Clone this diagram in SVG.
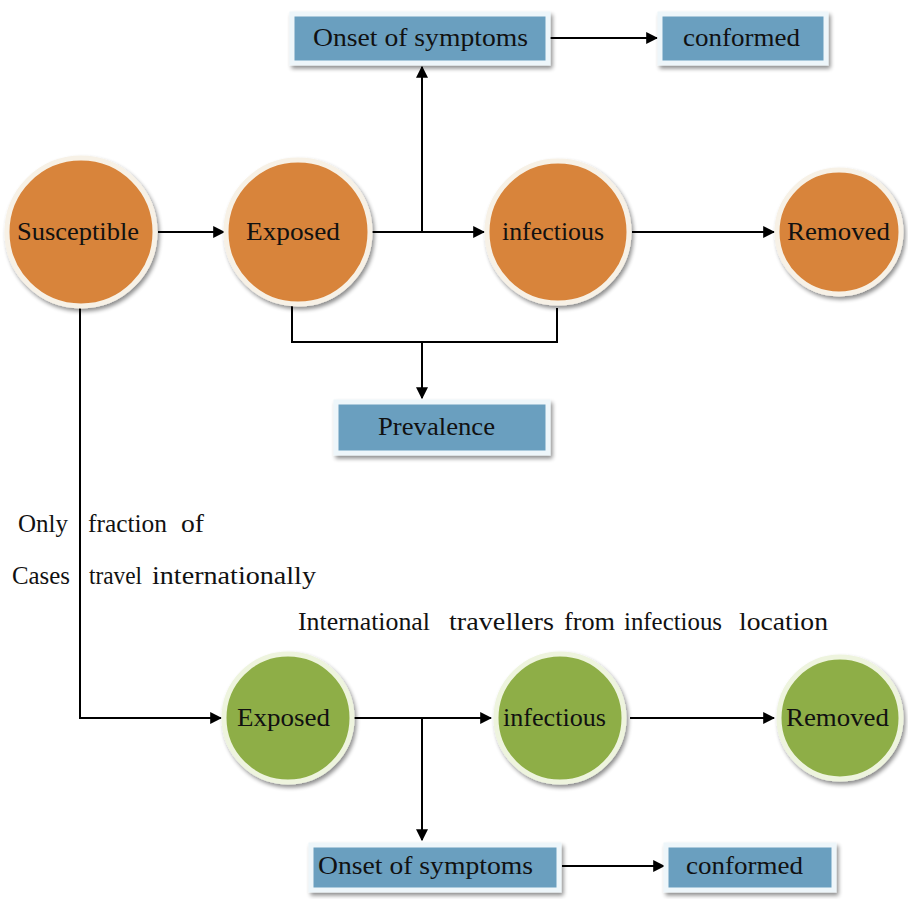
<svg xmlns="http://www.w3.org/2000/svg" width="908" height="901" viewBox="0 0 908 901">
<defs>
<marker id="ah" viewBox="0 0 10 10" refX="9" refY="5" markerWidth="12" markerHeight="12" markerUnits="userSpaceOnUse" orient="auto">
<path d="M0,0 L10,5 L0,10 z" fill="#000"/>
</marker>
<filter id="sh" x="-20%" y="-20%" width="140%" height="140%">
<feGaussianBlur in="SourceAlpha" stdDeviation="2"/>
<feOffset dx="2" dy="3"/>
<feComponentTransfer><feFuncA type="linear" slope="0.45"/></feComponentTransfer>
<feMerge><feMergeNode/><feMergeNode in="SourceGraphic"/></feMerge>
</filter>
</defs>
<style>
text{font-family:'Liberation Serif','Tinos','Nimbus Roman','Nimbus Roman No9 L','FreeSerif','Times New Roman',Times,'DejaVu Serif',serif;font-size:25px;fill:#111;}
.or{fill:#D8843B;stroke:#F7F1E6;stroke-width:5;filter:url(#sh);}
.gr{fill:#8EAE47;stroke:#EEF4DE;stroke-width:5;filter:url(#sh);}
.bx{fill:#6A9FBF;stroke:#EEF6FA;stroke-width:5;filter:url(#sh);}
.ln{fill:none;stroke:#000;stroke-width:2;}
</style>
<rect width="908" height="901" fill="#fff"/>
<g id="connectors">
<line class="ln" x1="158" y1="232" x2="224" y2="232" marker-end="url(#ah)"/>
<line class="ln" x1="372" y1="232" x2="484" y2="232" marker-end="url(#ah)"/>
<line class="ln" x1="422" y1="232" x2="422" y2="67" marker-end="url(#ah)"/>
<line class="ln" x1="550" y1="38" x2="657" y2="38" marker-end="url(#ah)"/>
<line class="ln" x1="632" y1="232" x2="774" y2="232" marker-end="url(#ah)"/>
<polyline class="ln" points="292,305 292,342 557,342 557,308"/>
<line class="ln" x1="422" y1="342" x2="422" y2="398" marker-end="url(#ah)"/>
<polyline class="ln" points="80,307 80,718 221,718" marker-end="url(#ah)"/>
<line class="ln" x1="353" y1="718" x2="491" y2="718" marker-end="url(#ah)"/>
<line class="ln" x1="422" y1="718" x2="422" y2="840" marker-end="url(#ah)"/>
<line class="ln" x1="630" y1="718" x2="774" y2="718" marker-end="url(#ah)"/>
<line class="ln" x1="562" y1="866" x2="664" y2="866" marker-end="url(#ah)"/>
</g>
<g id="onset-top"><rect class="bx" x="292" y="14" width="256" height="49"/><text x="313" y="46" textLength="215" lengthAdjust="spacingAndGlyphs">Onset of symptoms</text></g>
<g id="conformed-top"><rect class="bx" x="660" y="14" width="166" height="49"/><text x="683" y="46" textLength="117" lengthAdjust="spacingAndGlyphs">conformed</text></g>
<g id="susceptible"><circle class="or" cx="81" cy="232" r="74"/><text x="17" y="240" textLength="122" lengthAdjust="spacingAndGlyphs">Susceptible</text></g>
<g id="exposed-top"><circle class="or" cx="298" cy="232" r="72"/><text x="246" y="240" textLength="94" lengthAdjust="spacingAndGlyphs">Exposed</text></g>
<g id="infectious-top"><circle class="or" cx="558" cy="232" r="71"/><text x="502" y="240" textLength="102" lengthAdjust="spacingAndGlyphs">infectious</text></g>
<g id="removed-top"><circle class="or" cx="839" cy="232" r="62"/><text x="787" y="240" textLength="103" lengthAdjust="spacingAndGlyphs">Removed</text></g>
<g id="prevalence"><rect class="bx" x="336" y="402" width="212" height="51"/><text x="378" y="435" textLength="117" lengthAdjust="spacingAndGlyphs">Prevalence</text></g>
<g id="labels">
<text x="18" y="532" textLength="50" lengthAdjust="spacingAndGlyphs">Only</text>
<text x="88" y="532" textLength="79" lengthAdjust="spacingAndGlyphs">fraction</text>
<text x="181" y="532" textLength="23" lengthAdjust="spacingAndGlyphs">of</text>
<text x="12" y="584" textLength="58" lengthAdjust="spacingAndGlyphs">Cases</text>
<text x="89" y="584" textLength="53" lengthAdjust="spacingAndGlyphs">travel</text>
<text x="152" y="584" textLength="164" lengthAdjust="spacingAndGlyphs">internationally</text>
<text x="298" y="630" textLength="132" lengthAdjust="spacingAndGlyphs">International</text>
<text x="449" y="630" textLength="105" lengthAdjust="spacingAndGlyphs">travellers</text>
<text x="564" y="630" textLength="51" lengthAdjust="spacingAndGlyphs">from</text>
<text x="624" y="630" textLength="98" lengthAdjust="spacingAndGlyphs">infectious</text>
<text x="739" y="630" textLength="89" lengthAdjust="spacingAndGlyphs">location</text>
</g>
<g id="exposed-bottom"><circle class="gr" cx="288" cy="718" r="64"/><text x="237" y="726" textLength="93" lengthAdjust="spacingAndGlyphs">Exposed</text></g>
<g id="infectious-bottom"><circle class="gr" cx="560" cy="718" r="64"/><text x="503" y="726" textLength="103" lengthAdjust="spacingAndGlyphs">infectious</text></g>
<g id="removed-bottom"><circle class="gr" cx="840" cy="718" r="61"/><text x="786" y="726" textLength="103" lengthAdjust="spacingAndGlyphs">Removed</text></g>
<g id="onset-bottom"><rect class="bx" x="311" y="845" width="248" height="45"/><text x="318" y="874" textLength="215" lengthAdjust="spacingAndGlyphs">Onset of symptoms</text></g>
<g id="conformed-bottom"><rect class="bx" x="666" y="845" width="168" height="45"/><text x="686" y="874" textLength="117" lengthAdjust="spacingAndGlyphs">conformed</text></g>
</svg>
